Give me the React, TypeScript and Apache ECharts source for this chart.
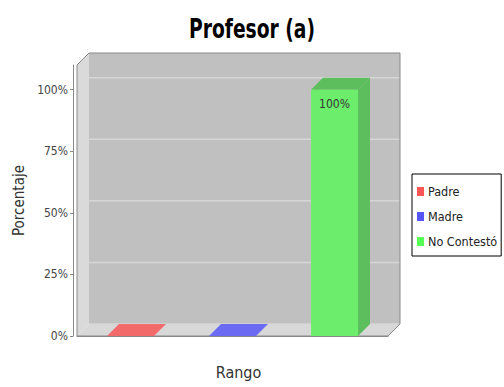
import React, { useEffect, useRef } from "react";
import * as echarts from "echarts";

const chartTitle = "Profesor (a)";
const categories = ["Rango"];
const seriesNames = ["Padre", "Madre", "No Contestó"];
const padreValues = [0];
const madreValues = [0];
const noContestoValues = [1.0];
const yTickValues = [0, 0.25, 0.5, 0.75, 1.0];
const yAxisMax = 1.1;

const legendColors = ["#FF5555", "#5555FF", "#55FF55"];
const faceColors = ["#F26A6A", "#6A6AF2", "#6CEE6C"];
const darkColors = ["#C05858", "#5858C0", "#5CBE5C"];
const DEPTH = 12;
const BAR_OFFSETS = [-0.328, 0, 0.328];
const BAR_WIDTH = 0.151;

const tahoma = "'DejaVu Sans Condensed', 'DejaVu Sans', sans-serif";

function pct(v: number) {
  return Math.round(v * 100) + "%";
}

export default function App() {
  const ref = useRef<HTMLDivElement>(null);
  useEffect(() => {
    if (!ref.current) return;
    const chart = echarts.init(ref.current, undefined, { renderer: "svg" });
    const allValues = [padreValues, madreValues, noContestoValues];

    const wallsSeries: any = {
      type: "custom",
      name: "walls",
      silent: true,
      z: 1,
      data: [[0, 0]],
      encode: { x: 0, y: 1 },
      renderItem: (params: any, api: any) => {
        const c = api.coord([0, 0]);
        const band = api.size([1, 0])[0];
        const x0 = c[0] - band / 2;
        const x1 = c[0] + band / 2;
        const y0 = c[1];
        const yTop = api.coord([0, yAxisMax])[1];
        const D = DEPTH;
        const children: any[] = [
          {
            type: "rect",
            shape: { x: x0 + D, y: yTop - D, width: x1 - x0, height: y0 - yTop },
            style: { fill: "#C0C0C0" },
          },
          {
            type: "polygon",
            shape: { points: [[x0, yTop], [x0 + D, yTop - D], [x0 + D, y0 - D], [x0, y0]] },
            style: { fill: "#DADADA" },
          },
          {
            type: "polygon",
            shape: { points: [[x0, y0], [x0 + D, y0 - D], [x1 + D, y0 - D], [x1, y0]] },
            style: { fill: "#D8D8D8" },
          },
        ];
        yTickValues.forEach((t) => {
          const y = api.coord([0, t])[1] - D;
          children.push({
            type: "line",
            shape: { x1: x0 + D, y1: y, x2: x1 + D, y2: y },
            style: { stroke: "#D6D6D6", lineWidth: 1.5 },
          });
        });
        children.push({
          type: "polygon",
          shape: {
            points: [[x0, yTop], [x0 + D, yTop - D], [x1 + D, yTop - D], [x1 + D, y0 - D], [x1, y0], [x0, y0]],
          },
          style: { fill: "none", stroke: "#8A8A8A", lineWidth: 1 },
        });
        return { type: "group", children };
      },
    };

    const barSeries = seriesNames.map((name, i) => ({
      type: "custom",
      name,
      z: 2,
      itemStyle: { color: legendColors[i] },
      data: categories.map((_, ci) => [ci, allValues[i][ci]]),
      encode: { x: 0, y: 1 },
      renderItem: (params: any, api: any) => {
        const cat = api.value(0);
        const v = api.value(1);
        const p = api.coord([cat, v]);
        const p0 = api.coord([cat, 0]);
        const band = api.size([1, 0])[0];
        const cx = p[0] + band * BAR_OFFSETS[i];
        const w = band * BAR_WIDTH;
        const xl = cx - w / 2;
        const xr = cx + w / 2;
        const yv = p[1];
        const y0 = p0[1];
        const D = DEPTH;
        const hasHeight = y0 - yv > 0.5;
        const children: any[] = [];
        if (hasHeight) {
          children.push({
            type: "polygon",
            shape: { points: [[xr, yv], [xr + D, yv - D], [xr + D, y0 - D], [xr, y0]] },
            style: { fill: darkColors[i] },
          });
        }
        children.push({
          type: "polygon",
          shape: { points: [[xl, yv], [xl + D, yv - D], [xr + D, yv - D], [xr, yv]] },
          style: { fill: hasHeight ? darkColors[i] : faceColors[i] },
        });
        if (hasHeight) {
          children.push({
            type: "rect",
            shape: { x: xl, y: yv, width: w, height: y0 - yv },
            style: { fill: faceColors[i] },
          });
          children.push({
            type: "text",
            style: {
              text: pct(v),
              x: cx,
              y: yv + 8,
              align: "center",
              verticalAlign: "top",
              fill: "#333",
              font: "12px " + tahoma,
            },
          });
        }
        return { type: "group", children };
      },
    }));

    chart.setOption({
      animation: false,
      backgroundColor: "#fff",
      graphic: [
        {
          type: "text",
          x: 252,
          y: 29,
          scaleX: 0.77,
          style: {
            text: chartTitle,
            align: "center",
            verticalAlign: "middle",
            font: "bold 27px 'DejaVu Sans Condensed', 'DejaVu Sans', sans-serif",
            fill: "#000",
          },
        },
      ],
      legend: {
        data: seriesNames,
        orient: "vertical",
        left: 412,
        top: 174,
        icon: "rect",
        itemWidth: 7,
        itemHeight: 9,
        itemGap: 12,
        padding: [11, 4, 8, 5],
        borderColor: "#000",
        borderWidth: 1,
        backgroundColor: "#fff",
        textStyle: { fontSize: 12.5, fontFamily: tahoma, color: "#222", padding: [0, 0, 0, -1] },
      },
      grid: { left: 77, right: 116, top: 65, bottom: 51, containLabel: false },
      xAxis: {
        type: "category",
        data: categories,
        offset: 6,
        name: "Rango",
        nameLocation: "middle",
        nameGap: 22,
        nameTextStyle: { fontSize: 16, fontFamily: tahoma, color: "#333", padding: [0, 0, 0, 12] },
        axisLine: { lineStyle: { color: "#888" } },
        axisTick: { alignWithLabel: true, length: 3, lineStyle: { color: "#888" } },
        axisLabel: { show: false },
        splitLine: { show: false },
      },
      yAxis: {
        type: "value",
        min: 0,
        max: yAxisMax,
        offset: 4,
        name: "Porcentaje",
        nameLocation: "middle",
        nameRotate: 90,
        nameGap: 39,
        nameTextStyle: { fontSize: 15, fontFamily: tahoma, color: "#333" },
        axisLine: { show: true, lineStyle: { color: "#888" } },
        axisTick: { show: true, length: 3, customValues: yTickValues, lineStyle: { color: "#888" } },
        axisLabel: {
          customValues: yTickValues,
          formatter: (v: number) => pct(v),
          fontSize: 12,
          fontFamily: tahoma,
          color: "#444",
          margin: 5,
        },
        splitLine: { show: false },
      },
      series: [wallsSeries, ...barSeries],
    });
    return () => chart.dispose();
  }, []);
  return <div ref={ref} style={{ width: 504, height: 387, position: "absolute", left: 0, top: 0 }} />;
}
